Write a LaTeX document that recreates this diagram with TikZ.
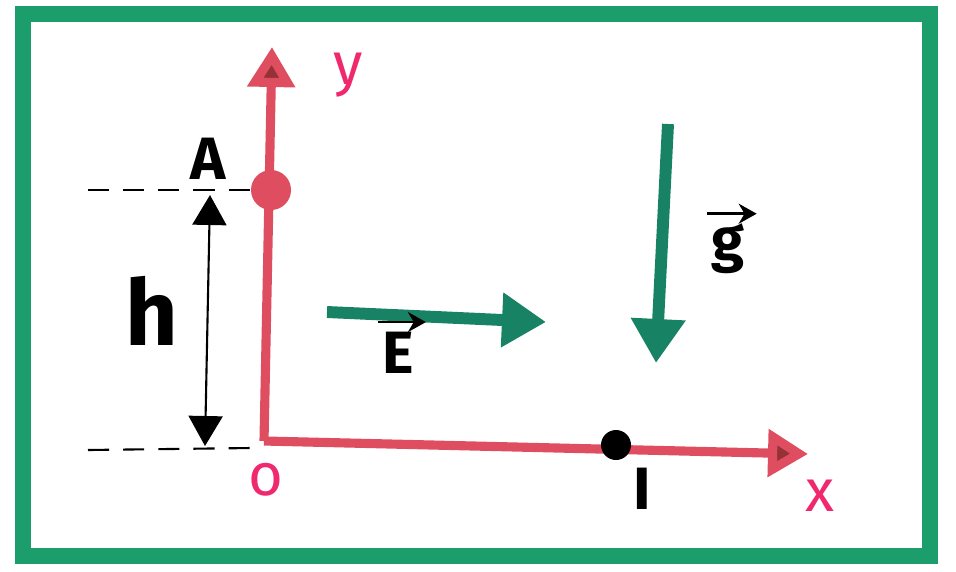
\documentclass[tikz,border=0pt]{standalone}
\usepackage{amsmath}
\usepackage{fontspec}
\setmainfont{Fira Sans}
\usetikzlibrary{arrows.meta,calc,positioning}
\definecolor{framegreen}{RGB}{28,158,108}
\definecolor{vecgreen}{RGB}{24,130,100}
\definecolor{axisred}{RGB}{222,78,96}
\definecolor{tipred}{RGB}{150,50,55}
\definecolor{labelpink}{RGB}{240,40,110}
\tikzset{
    sketch diagram/.style = {>={Triangle[length=3.6mm, width=3.8mm]}},
    frame/.style          = {draw=framegreen, line width=4.8pt},
    axis/.style           = {draw=axisred, line width=2.6pt,
                             -{Triangle[length=4mm, width=4.6mm, fill=tipred]}},
    vector/.style         = {draw=vecgreen, line width=3.4pt,
                             -{Triangle[length=4.4mm, width=5.2mm]}},
    guide/.style          = {semithick, dash pattern=on 6pt off 4pt},
    measure/.style        = {semithick, {Triangle[length=3mm, width=3.4mm]}-{Triangle[length=3mm, width=3.4mm]}},
    overarrow/.style      = {thick, -{Stealth[length=1.8mm, width=2mm]}},
    point/.style          = {circle, fill, inner sep=0pt, minimum size=3mm},
    lbl/.style            = {font=\fontsize{17}{20}\selectfont\bfseries},
    axlbl/.style          = {font=\fontsize{17}{20}\selectfont, text=labelpink}
}

\begin{document}
\begin{tikzpicture}[sketch diagram, x=1cm, y=1cm]
\useasboundingbox (0,0) rectangle (9.56,5.71);

% Frame round the whole sketch.
\draw[frame] (0.23,0.15) rectangle (9.30,5.57);

% Axes from the origin.
\coordinate (O) at (2.64,1.30);
\coordinate (ytip) at (2.72,5.24);
\coordinate (xtip) at (8.08,1.17);
\draw[axis] (O) -- (ytip);
\draw[axis] (O) -- (xtip);
\node[axlbl] (ylabel) at (3.48,4.96) {y};
\node[axlbl] (olabel) at (2.66,0.91) {o};
\node[axlbl] (xlabel) at (8.20,0.75) {x};

% Starting point A and height h.
\node[point, fill=axisred, minimum size=4mm] (A) at (2.71,3.81) {};
\node[lbl] (Alabel) at (2.08,4.12) {A};
\coordinate (hleft) at (0.88,3.81);
\coordinate (lowleft) at (0.88,1.21);
\coordinate (lowright) at (2.52,1.23);
\coordinate (htop) at (2.10,3.76);
\coordinate (hbottom) at (2.05,1.25);
\draw[guide] (hleft) -- (A.west);
\draw[guide] (lowleft) -- (lowright);
\draw[measure] (htop) -- (hbottom);
\node[lbl, font=\fontsize{26}{30}\selectfont\bfseries] (hlabel) at (1.52,2.60) {h};

% Field and gravity vectors.
\coordinate (Estart) at (3.27,2.59);
\coordinate (Eend) at (5.46,2.49);
\draw[vector] (Estart) -- (Eend);
\node[lbl, inner sep=1pt] (Elabel) at (3.98,2.18) {E};
\draw[overarrow] ($(Elabel.north west)+(0,0.06)$) -- ($(Elabel.north east)+(0.08,0.06)$);
\coordinate (gstart) at (6.68,4.47);
\coordinate (gend) at (6.56,2.08);
\draw[vector] (gstart) -- (gend);
\node[lbl, inner sep=1pt] (glabel) at (7.28,3.22) {g};
\draw[overarrow] ($(glabel.north west)+(0,0.06)$) -- ($(glabel.north east)+(0.08,0.06)$);

% Impact point I.
\node[point] (I) at (6.16,1.26) {};
\node[lbl] (Ilabel) at (6.42,0.82) {I};

\end{tikzpicture}
\end{document}
